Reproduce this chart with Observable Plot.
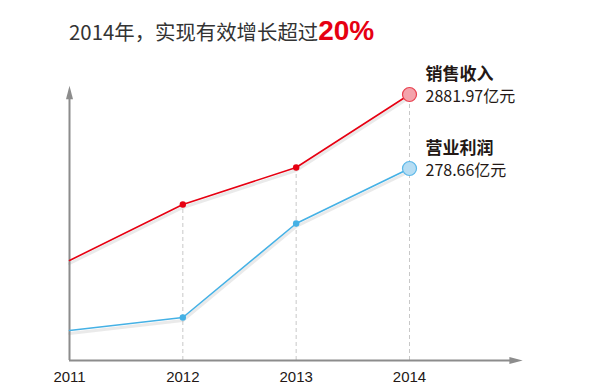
<!DOCTYPE html>
<html><head><meta charset="utf-8">
<script src="https://cdn.jsdelivr.net/npm/d3@7"></script>
<script src="https://cdn.jsdelivr.net/npm/@observablehq/plot@0.6"></script>
<style>
body{margin:0;background:#fff;}
#wrap{position:relative;width:600px;height:392px;overflow:hidden;}
#title{position:absolute;left:69px;top:17px;font-family:"Noto Sans CJK SC","Noto Sans",sans-serif;font-size:20.4px;line-height:28px;color:#333;white-space:nowrap;}
#title b{font-family:"Liberation Sans",Arial,sans-serif;font-weight:bold;font-size:28px;color:#e60012;}
</style></head>
<body><div id="wrap"><div id="title"></div></div>
<script>
// Data (relative heights; the two series are drawn on separate illustrative scales)
const years = [2011, 2012, 2013, 2014];
const revenue = [100, 156, 193, 266];   // 销售收入
const profit = [30, 43, 137, 192];      // 营业利润
const seriesNames = ["销售收入", "营业利润"];
const endLabels = ["2881.97亿元", "278.66亿元"];
const titleText = "2014年，实现有效增长超过";
const titleHighlight = "20%";
const axisEndYear = 2015;
const axisTop = 274;

document.getElementById("title").innerHTML = titleText + "<b>" + titleHighlight + "</b>";

const colors = {"销售收入": "#e60012", "营业利润": "#45b1e5"};
const endFill = {"销售收入": "#f4a3ab", "营业利润": "#b6ddf3"};
const endStroke = {"销售收入": "#e8414f", "营业利润": "#5ab7e8"};

const rows = [];
years.forEach((yr, i) => {
  rows.push({year: yr, value: revenue[i], series: seriesNames[0]});
  rows.push({year: yr, value: profit[i], series: seriesNames[1]});
});
const last = rows.filter(d => d.year === years[years.length - 1]).map((d, i) => ({...d, label: endLabels[i]}));
const mid = rows.filter(d => d.year !== years[0] && d.year !== years[years.length - 1]);
const gridRows = years.slice(1).map((yr, i) => ({year: yr, top: revenue[i + 1]}));

// elongated filled arrowhead symbol (points up)
const arrowHead = {
  draw(ctx, size) {
    const l = Math.sqrt(size) * 1.45, w = Math.sqrt(size) * 0.38;
    ctx.moveTo(0, -l / 2);
    ctx.lineTo(w, l / 2);
    ctx.lineTo(-w, l / 2);
    ctx.closePath();
  }
};

const font = "'Liberation Sans', Arial, sans-serif";
const cjk = "'Noto Sans CJK SC', sans-serif";

const chart = Plot.plot({
  width: 600,
  height: 392,
  marginLeft: 69,
  marginRight: 191,
  marginTop: 86,
  marginBottom: 32,
  style: {fontFamily: font, background: "transparent", overflow: "visible"},
  x: {domain: [years[0], years[years.length - 1]], axis: null},
  y: {domain: [0, axisTop], axis: null},
  marks: [
    Plot.ruleX(gridRows, {x: "year", y1: 0, y2: "top", stroke: "#c8c8c8", strokeDasharray: "4,3", strokeWidth: 1}),
    // axes
    Plot.ruleY([0], {x1: years[0], x2: axisEndYear - 0.1, stroke: "#8c8c8c", strokeWidth: 2, clip: false}),
    Plot.ruleX([years[0]], {y1: 0, y2: axisTop - 8, stroke: "#8c8c8c", strokeWidth: 2}),
    Plot.dot([{x: axisEndYear, y: 0}], {x: d => d.x - 0.06, y: "y", symbol: arrowHead, r: 5.2, rotate: 90, fill: "#8c8c8c", stroke: "none"}),
    Plot.dot([{x: years[0], y: axisTop}], {x: "x", y: d => d.y - 6, symbol: arrowHead, r: 5.2, fill: "#8c8c8c", stroke: "none"}),
    Plot.text(years, {x: d => d, y: 0, text: d => String(d), dy: 17, fontSize: 15, fill: "#231815"}),
    // line shadows
    Plot.line(rows, {x: "year", y: "value", z: "series", stroke: "#888", strokeOpacity: 0.18, strokeWidth: 3, dy: 3}),
    Plot.line(rows, {x: "year", y: "value", z: "series", stroke: d => colors[d.series], strokeWidth: 1.6}),
    Plot.dot(mid, {x: "year", y: "value", r: 3.2, fill: d => colors[d.series], stroke: "none"}),
    Plot.dot(last, {x: "year", y: "value", r: 7, fill: d => endFill[d.series], stroke: d => endStroke[d.series], strokeWidth: 1.2}),
    Plot.text(last, {x: "year", y: "value", text: "series", dx: 16, dy: -20, textAnchor: "start", fontSize: 17, fontWeight: "bold", fill: "#231815", fontFamily: cjk}),
    Plot.text(last, {x: "year", y: "value", text: "label", dx: 16, dy: 2, textAnchor: "start", fontSize: 16, fill: "#231815", fontFamily: cjk})
  ]
});
document.getElementById("wrap").appendChild(chart);
</script>
</body></html>
